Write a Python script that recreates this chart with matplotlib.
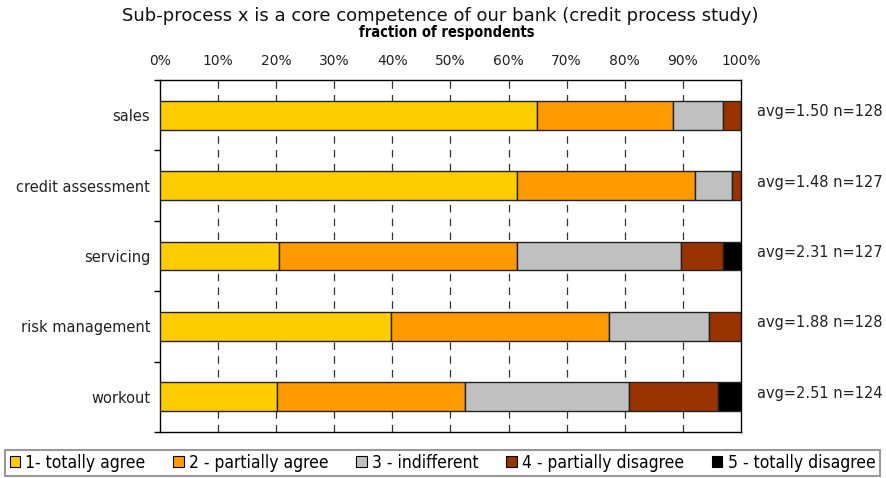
import numpy as np
import matplotlib
matplotlib.use('Agg')
from matplotlib import pyplot as plt
from matplotlib.patches import Patch

# survey data: number of respondents per answer (1..5) for each sub-process
categories = ['sales', 'credit assessment', 'servicing', 'risk management', 'workout']
answer_labels = ['1- totally agree', '2 - partially agree', '3 - indifferent',
                 '4 - partially disagree', '5 - totally disagree']
counts = [
    [83, 30, 11, 4, 0],
    [78, 39, 8, 2, 0],
    [26, 52, 36, 9, 4],
    [51, 48, 22, 7, 0],
    [25, 40, 35, 19, 5],
]
colors = ['#FFCC00', '#FF9900', '#C0C0C0', '#993300', '#000000']

counts = np.array(counts, dtype=float)
n = counts.sum(axis=1)
frac = counts / n[:, None] * 100
avg = (counts * np.arange(1, 6)).sum(axis=1) / n

fig = plt.figure(figsize=(8.86, 4.78), dpi=100)
ax = fig.add_axes([0.1806, 0.0962, 0.6557, 0.7364])

y = np.arange(len(categories))
left = np.zeros(len(categories))
for k in range(5):
    ax.barh(y, frac[:, k], left=left, height=0.41, color=colors[k],
            edgecolor='#222222', linewidth=1.0, zorder=3)
    left += frac[:, k]

ax.set_xlim(0, 100)
ax.set_ylim(len(categories) - 0.5, -0.5)

# x axis on top
ax.xaxis.tick_top()
ax.set_xticks(np.arange(0, 101, 10))
ax.set_xticklabels([str(v) + '%' for v in range(0, 101, 10)], fontsize=10, color='#222222')
ax.tick_params(axis='x', length=0, pad=9)
for xv in range(10, 100, 10):
    ax.axvline(xv, color='#333333', linestyle=(0, (6, 5)), linewidth=0.9, zorder=1)
ax.set_xticks([0, 100], minor=True)
ax.tick_params(axis='x', which='minor', top=True, length=4, width=1)

# y axis: labels at centers, ticks at boundaries
ax.set_yticks(y)
ax.set_yticklabels(categories, fontsize=10.5, color='#222222')
ax.tick_params(axis='y', length=0, pad=7)
ax.set_yticks(np.arange(-0.5, len(categories), 1.0), minor=True)
ax.tick_params(axis='y', which='minor', length=4, width=1)

for side in ['top', 'left', 'right', 'bottom']:
    ax.spines[side].set_linewidth(1.0)
    ax.spines[side].set_color('black')

for i in range(len(categories)):
    ax.text(102.8, y[i] - 0.05, 'avg=%.2f n=%d' % (avg[i], n[i]),
            fontsize=10.5, va='center', ha='left', color='#222222')

fig.text(0.497, 0.966, 'Sub-process x is a core competence of our bank (credit process study)',
         ha='center', va='center', fontsize=13, color='#111111')
fig.text(0.5045, 0.931, 'fraction of respondents', ha='center', va='center',
         fontsize=10.5, fontweight='bold', fontstretch='condensed')

handles = [Patch(facecolor=c, edgecolor='black', linewidth=0.8) for c in colors]
leg = fig.legend(handles, answer_labels, loc='lower center', bbox_to_anchor=(0.4995, 0.0),
                 ncol=5, frameon=True, fancybox=False,
                 handlelength=0.6, handleheight=0.6, handletextpad=0.3,
                 columnspacing=1.6, borderpad=0.25, borderaxespad=0.1,
                 prop={'size': 12.5, 'stretch': 'condensed'})
leg.get_frame().set_edgecolor('#808080')
leg.get_frame().set_linewidth(1.5)

fig.savefig('out.png', dpi=100)
